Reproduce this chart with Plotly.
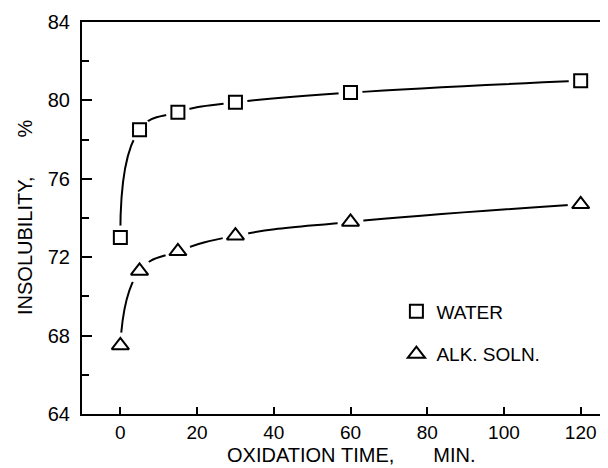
import plotly.graph_objects as go

time_min = [0, 5, 15, 30, 60, 120]
water = [73.0, 78.5, 79.4, 79.9, 80.4, 81.0]
alk_soln = [67.5, 71.3, 72.3, 73.1, 73.8, 74.7]

x_ticks = [0, 20, 40, 60, 80, 100, 120]
y_ticks = [64, 68, 72, 76, 80, 84]

FONT = "Liberation Sans, Arial, sans-serif"
NB = "\u00a0"

fig = go.Figure()

series = [
    ("WATER", water, "square-open", 13),
    ("ALK." + NB + "SOLN.", alk_soln, "triangle-up-open", 15),
]

# smooth curves
for name, ys, sym, sz in series:
    fig.add_trace(go.Scatter(
        x=time_min, y=ys, mode="lines",
        line=dict(color="black", width=2, shape="spline", smoothing=1.3),
        showlegend=False, hoverinfo="skip"))

# white masks to open gaps around markers
for name, ys, sym, sz in series:
    fig.add_trace(go.Scatter(
        x=time_min, y=ys, mode="markers",
        marker=dict(symbol="circle", size=sz + 11, color="white",
                    line=dict(width=0)),
        showlegend=False, hoverinfo="skip"))

# markers
for i, (name, ys, sym, sz) in enumerate(series):
    fig.add_trace(go.Scatter(
        x=time_min, y=ys, mode="markers", name=name,
        legendgroup=f"g{i}",
        marker=dict(symbol=sym, size=sz, color="black",
                    line=dict(width=2, color="black"))))

fig.update_layout(
    width=600, height=460,
    margin=dict(l=74, r=2, t=14, b=54),
    paper_bgcolor="white", plot_bgcolor="white",
    font=dict(family=FONT, color="black", size=19),
    legend=dict(x=0.60, y=0.31, xanchor="left", yanchor="top",
                bgcolor="rgba(0,0,0,0)", font=dict(size=19),
                tracegroupgap=15, itemsizing="trace"),
    annotations=[
        dict(text="OXIDATION" + NB + "TIME," + NB * 7 + "MIN.",
             xref="paper", yref="paper", x=0.515, y=0, yshift=-41,
             xanchor="center", yanchor="middle", showarrow=False,
             font=dict(size=20)),
        dict(text="INSOLUBILITY," + NB * 7 + "%",
             xref="paper", yref="paper", x=0, xshift=-57, y=0.5,
             xanchor="center", yanchor="middle", showarrow=False,
             textangle=-90, font=dict(size=20)),
    ],
)

fig.update_xaxes(
    range=[-10, 126.6], tickvals=x_ticks, ticktext=[str(v) for v in x_ticks],
    ticks="inside", ticklen=7, tickwidth=2, tickcolor="black",
    showline=True, linewidth=2, linecolor="black", mirror=True,
    showgrid=False, zeroline=False, tickfont=dict(size=19),
)
fig.update_yaxes(
    range=[64, 84], tickvals=y_ticks, ticktext=[str(v) for v in y_ticks],
    ticks="inside", ticklen=10, tickwidth=2, tickcolor="black",
    minor=dict(dtick=2, ticks="inside", ticklen=7, tickwidth=2,
               tickcolor="black", showgrid=False),
    showline=True, linewidth=2, linecolor="black",
    showgrid=False, zeroline=False, tickfont=dict(size=20),
    ticklabelstandoff=6,
)

fig.write_html("out.html")
